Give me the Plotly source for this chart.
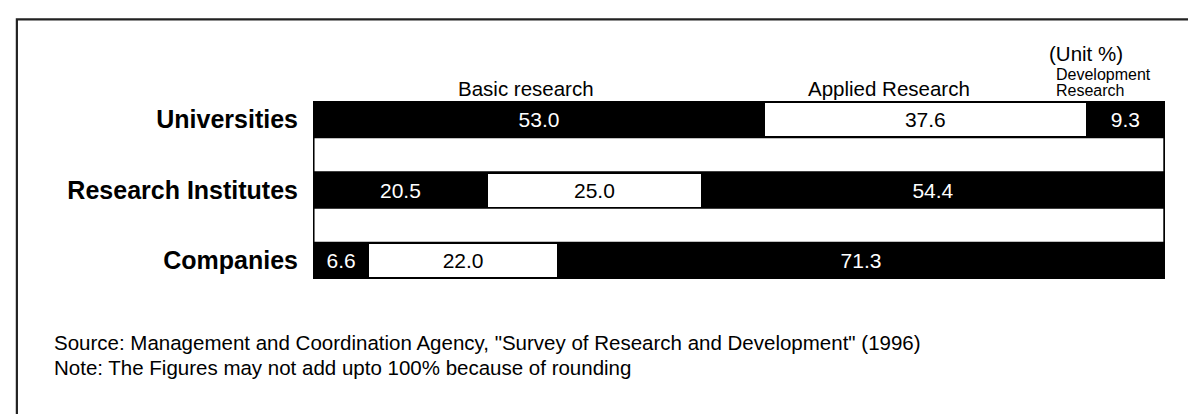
import plotly.graph_objects as go

# ---- data ----
categories = ["Universities", "Research Institutes", "Companies"]
basic = [53.0, 20.5, 6.6]
applied = [37.6, 25.0, 22.0]
development = [9.3, 54.4, 71.3]
series_names = ["Basic research", "Applied Research", "Development Research"]
source_text = 'Source: Management and Coordination Agency, "Survey of Research and Development" (1996)'
note_text = "Note: The Figures may not add upto 100% because of rounding"
unit_text = "(Unit %)"

FONT = "Liberation Sans, Arial, Helvetica, sans-serif"

# pixel geometry of plot area (figure 1196 x 414)
W, H = 1196, 414
L, R, T, B = 305, 1157.5, 93, 271
PW, PH = R - L, B - T


def px(x):
    return (x - L) / PW


def py(y):
    return (B - y) / PH


fig = go.Figure()
series = [(basic, "black", "white"), (applied, "white", "black"), (development, "black", "white")]
for (vals, fill, tcol), name in zip(series, series_names):
    fig.add_trace(go.Bar(
        y=categories, x=vals, orientation="h", name=name,
        marker=dict(color=fill, line=dict(width=0)),
        width=0.468,
        texttemplate="%{x:.1f}", textposition="inside", insidetextanchor="middle",
        textfont=dict(family=FONT, size=21, color=tcol),
        constraintext="none", cliponaxis=False,
    ))

total = max(a + b + c for a, b, c in zip(basic, applied, development))

shapes = []
# white separator rows between the bars
for yc in (0.5, 1.5):
    shapes.append(dict(type="rect", xref="x", yref="y", x0=0.18, x1=total - 0.2,
                       y0=yc - 0.234, y1=yc + 0.234, fillcolor="white",
                       line=dict(width=0), layer="above"))
# outer frame (top and left edge visible)
fx, fy = px(8.7), py(11.3)
shapes.append(dict(type="path", xref="paper", yref="paper",
                   path=f"M {fx},-1.5 L {fx},{fy} L 1.3,{fy}",
                   line=dict(color="#222222", width=2.2)))

annotations = [
    dict(text=series_names[0], x=px(518.6), y=py(80.5), xanchor="center", yanchor="middle",
         font=dict(family=FONT, size=20.5, color="black")),
    dict(text=series_names[1], x=px(881.8), y=py(80.5), xanchor="center", yanchor="middle",
         font=dict(family=FONT, size=20.5, color="black")),
    dict(text=unit_text, x=px(1039), y=py(45), xanchor="left", yanchor="middle",
         font=dict(family=FONT, size=20.5, color="black")),
    dict(text=series_names[2].split(" ")[0], x=px(1046.7), y=py(66.5), xanchor="left", yanchor="middle",
         font=dict(family=FONT, size=16, color="black")),
    dict(text=series_names[2].split(" ")[1], x=px(1046.7), y=py(82.5), xanchor="left", yanchor="middle",
         font=dict(family=FONT, size=16, color="black")),
    dict(text=source_text, x=px(44), y=py(334), xanchor="left", yanchor="middle",
         font=dict(family=FONT, size=20.5, color="black")),
    dict(text=note_text, x=px(44), y=py(359.5), xanchor="left", yanchor="middle",
         font=dict(family=FONT, size=20.5, color="black")),
]
for a in annotations:
    a.update(xref="paper", yref="paper", showarrow=False)

fig.update_layout(
    width=W, height=H,
    margin=dict(l=L, r=W - R, t=T, b=H - B, pad=0),
    barmode="stack",
    plot_bgcolor="black", paper_bgcolor="white",
    showlegend=False,
    xaxis=dict(range=[0, total], visible=False, fixedrange=True),
    yaxis=dict(type="category", categoryarray=categories, range=[2.262, -0.262],
               showgrid=False, zeroline=False, showline=False, ticks="",
               ticklabelstandoff=14,
               tickfont=dict(family=FONT, size=25, color="black", weight="bold")),
    shapes=shapes,
    annotations=annotations,
    font=dict(family=FONT),
)

fig.write_html("out.html", config={"displayModeBar": False})
